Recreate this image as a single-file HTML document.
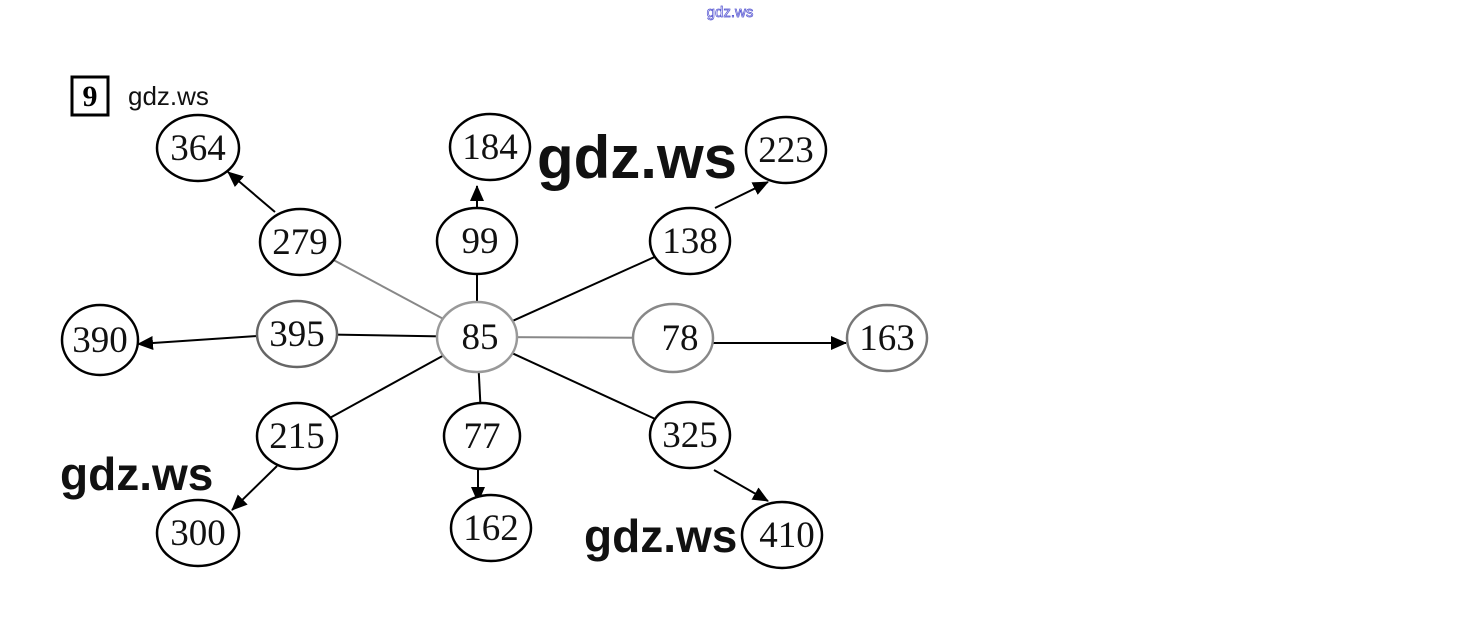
<!DOCTYPE html>
<html><head><meta charset="utf-8"><style>
body{margin:0;background:#fff;width:1460px;height:627px;overflow:hidden}
svg{display:block}
.n{font-family:"Liberation Serif",serif;font-size:37px;text-anchor:middle;fill:#111}
.w{font-family:"Liberation Sans",sans-serif;font-weight:bold;fill:#111}
</style></head><body>
<svg width="1460" height="627" viewBox="0 0 1460 627">
<defs><marker id="a" markerWidth="16" markerHeight="16" refX="15" refY="7" orient="auto" markerUnits="userSpaceOnUse"><path d="M0,0 L16,7 L0,14 z" fill="#000"/></marker></defs>
<text x="730" y="17" font-family="Liberation Sans,sans-serif" font-size="15" fill="none" stroke="#5050d0" stroke-width="0.7" text-anchor="middle">gdz.ws</text>
<rect x="72" y="77" width="36" height="38" fill="none" stroke="#000" stroke-width="3"/>
<text x="90" y="106" font-family="Liberation Serif,serif" font-weight="bold" font-size="30" text-anchor="middle">9</text>
<text x="128" y="105" font-family="Liberation Sans,sans-serif" font-size="26" fill="#111">gdz.ws</text>
<g stroke="#000" stroke-width="2" fill="none">
<line x1="477" y1="337" x2="300" y2="242" stroke="#888"/>
<line x1="477" y1="337" x2="477" y2="241"/>
<line x1="477" y1="337" x2="690" y2="241"/>
<line x1="477" y1="337" x2="297" y2="334"/>
<line x1="477" y1="337" x2="673" y2="338" stroke="#888"/>
<line x1="477" y1="337" x2="297" y2="436"/>
<line x1="477" y1="337" x2="482" y2="436"/>
<line x1="477" y1="337" x2="690" y2="435"/>
<line x1="275" y1="212" x2="228" y2="172" marker-end="url(#a)"/>
<line x1="477" y1="208" x2="477" y2="186" marker-end="url(#a)"/>
<line x1="715" y1="208" x2="768" y2="182" marker-end="url(#a)"/>
<line x1="257" y1="336" x2="138" y2="344" marker-end="url(#a)"/>
<line x1="713" y1="343" x2="846" y2="343" marker-end="url(#a)"/>
<line x1="277" y1="466" x2="232" y2="510" marker-end="url(#a)"/>
<line x1="478" y1="469" x2="478" y2="502" marker-end="url(#a)"/>
<line x1="714" y1="470" x2="768" y2="501" marker-end="url(#a)"/>
</g>
<g fill="#fff" stroke="#000" stroke-width="2.5">
<ellipse cx="198" cy="148" rx="41" ry="33"/>
<ellipse cx="490" cy="147" rx="40" ry="33"/>
<ellipse cx="786" cy="150" rx="40" ry="33"/>
<ellipse cx="300" cy="242" rx="40" ry="33"/>
<ellipse cx="477" cy="241" rx="40" ry="33"/>
<ellipse cx="690" cy="241" rx="40" ry="33"/>
<ellipse cx="100" cy="340" rx="38" ry="35"/>
<ellipse cx="297" cy="334" rx="40" ry="33" stroke="#666"/>
<ellipse cx="477" cy="337" rx="40" ry="35" stroke="#999"/>
<ellipse cx="673" cy="338" rx="40" ry="34" stroke="#888"/>
<ellipse cx="887" cy="338" rx="40" ry="33" stroke="#777"/>
<ellipse cx="297" cy="436" rx="40" ry="33"/>
<ellipse cx="482" cy="436" rx="38" ry="33"/>
<ellipse cx="690" cy="435" rx="40" ry="33"/>
<ellipse cx="198" cy="533" rx="41" ry="33"/>
<ellipse cx="491" cy="528" rx="40" ry="33"/>
<ellipse cx="782" cy="535" rx="40" ry="33"/>
</g>
<g class="n">
<text x="198" y="160">364</text><text x="490" y="159">184</text><text x="786" y="162">223</text>
<text x="300" y="254">279</text><text x="480" y="253">99</text><text x="690" y="253">138</text>
<text x="100" y="352">390</text><text x="297" y="346">395</text><text x="480" y="349">85</text>
<text x="680" y="350">78</text><text x="887" y="350">163</text>
<text x="297" y="448">215</text><text x="482" y="448">77</text><text x="690" y="447">325</text>
<text x="198" y="545">300</text><text x="491" y="540">162</text><text x="787" y="547">410</text>
</g>
<text class="w" x="537" y="178" font-size="60">gdz.ws</text>
<text class="w" x="60" y="490" font-size="46">gdz.ws</text>
<text class="w" x="584" y="552" font-size="46">gdz.ws</text>
</svg>
</body></html>
